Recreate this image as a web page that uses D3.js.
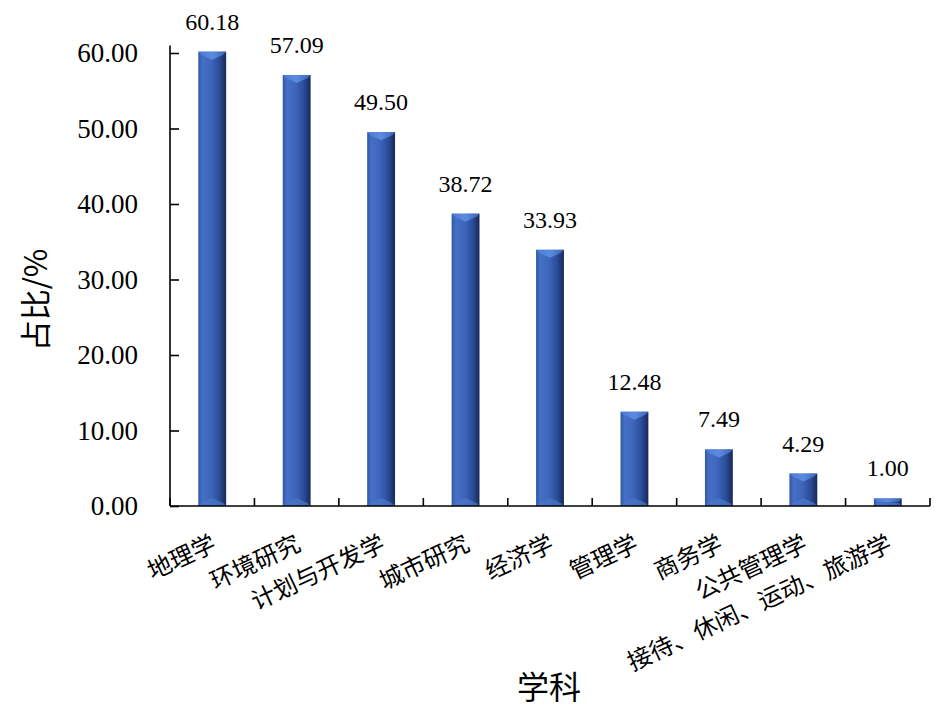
<!DOCTYPE html>
<html><head><meta charset="utf-8">
<script src="https://cdn.jsdelivr.net/npm/d3@7"></script>
<style>body{margin:0;background:#fff}svg{display:block}</style>
</head><body>
<svg id="c" width="946" height="723"></svg>
<script>
const categories = ["地理学","环境研究","计划与开发学","城市研究","经济学","管理学","商务学","公共管理学","接待、休闲、运动、旅游学"];
const values = [60.18,57.09,49.50,38.72,33.93,12.48,7.49,4.29,1.00];
const yTicks = [0,10,20,30,40,50,60];
const yTitle = "占比/%";
const xTitle = "学科";

const svg = d3.select("#c");
const left = 170, right = 930, bottom = 506;
const y = d3.scaleLinear().domain([0, 61]).range([bottom, bottom - 61*7.55]);
const x = d3.scaleBand().domain(categories).range([left, right]).paddingInner(0.67).paddingOuter(0.335);

const defs = svg.append("defs");
const g = defs.append("linearGradient").attr("id","barGrad").attr("x1","0").attr("x2","1").attr("y1","0").attr("y2","0");
[[0,"#2f56a8"],[0.15,"#4670c6"],[0.45,"#3d66bb"],[0.75,"#2c4d98"],[1,"#18285a"]].forEach(([o,c])=>g.append("stop").attr("offset",o).attr("stop-color",c));
const gt = defs.append("linearGradient").attr("id","topGrad").attr("x1","0").attr("x2","1").attr("y1","0").attr("y2","0");
[[0,"#4a7ad6"],[0.5,"#5b8be0"],[1,"#3a64b8"]].forEach(([o,c])=>gt.append("stop").attr("offset",o).attr("stop-color",c));

const serif = "Liberation Serif";
const cjk = "Noto Sans CJK SC";

const bars = svg.append("g");
categories.forEach((c,i)=>{
  const x0 = x(c), x1 = x0 + x.bandwidth(), cx = x0 + x.bandwidth()/2;
  const top = y(values[i]), h = bottom - top;
  const bv = Math.min(8, h/2);
  bars.append("rect").attr("x",x0).attr("y",top).attr("width",x1-x0).attr("height",h).attr("fill","url(#barGrad)");
  bars.append("path").attr("d",`M${x0},${top}L${x1},${top}L${x1-3},${top+3}L${cx},${top+bv}L${x0+3},${top+3}Z`).attr("fill","url(#topGrad)");
  bars.append("path").attr("d",`M${x0},${bottom}L${x0+3},${bottom-3}L${cx},${bottom-bv}L${x1-3},${bottom-3}L${x1},${bottom}Z`).attr("fill","#4a78cc").attr("opacity",0.7);
  svg.append("text").attr("x",cx).attr("y",top-22).attr("text-anchor","middle")
    .style("font-family",serif).attr("font-size",24).attr("fill","#000").text(values[i].toFixed(2));
});

const ya = svg.append("g").attr("transform",`translate(${left},0)`)
  .call(d3.axisRight(y).tickValues(yTicks).tickSize(9).tickFormat(""));
ya.select(".domain").attr("d",`M0,${bottom}V${y(61)}`).attr("stroke","#000").attr("stroke-width",1.6);
ya.selectAll(".tick line").attr("stroke","#000").attr("stroke-width",1.6);
svg.append("g").selectAll("text").data(yTicks).join("text")
  .attr("x",138).attr("y",d=>y(d)).attr("dy","0.35em").attr("text-anchor","end")
  .style("font-family",serif).attr("font-size",27).attr("fill","#000").text(d=>d.toFixed(2));

const bounds = d3.range(categories.length+1).map(i=>left + i*x.step());
svg.append("line").attr("x1",left).attr("x2",right).attr("y1",bottom).attr("y2",bottom).attr("stroke","#000").attr("stroke-width",1.6);
svg.append("g").selectAll("line").data(bounds).join("line")
  .attr("x1",d=>d).attr("x2",d=>d).attr("y1",bottom).attr("y2",bottom-8).attr("stroke","#000").attr("stroke-width",1.6);

svg.append("g").selectAll("text").data(categories).join("text")
  .attr("transform",d=>`translate(${x(d)+x.bandwidth()/2-3},531) rotate(-25)`)
  .attr("dy","0.85em").attr("text-anchor","end")
  .style("font-family",cjk).attr("font-size",24).attr("fill","#000").text(d=>d);

svg.append("text").attr("transform","translate(36,300) rotate(-90)").attr("text-anchor","middle").attr("dy","0.35em")
  .style("font-family",cjk).attr("font-size",31).attr("fill","#000").text(yTitle);
svg.append("text").attr("x",549).attr("y",688).attr("text-anchor","middle").attr("dy","0.35em")
  .style("font-family",cjk).attr("font-size",32).attr("fill","#000").text(xTitle);
</script>
</body></html>
